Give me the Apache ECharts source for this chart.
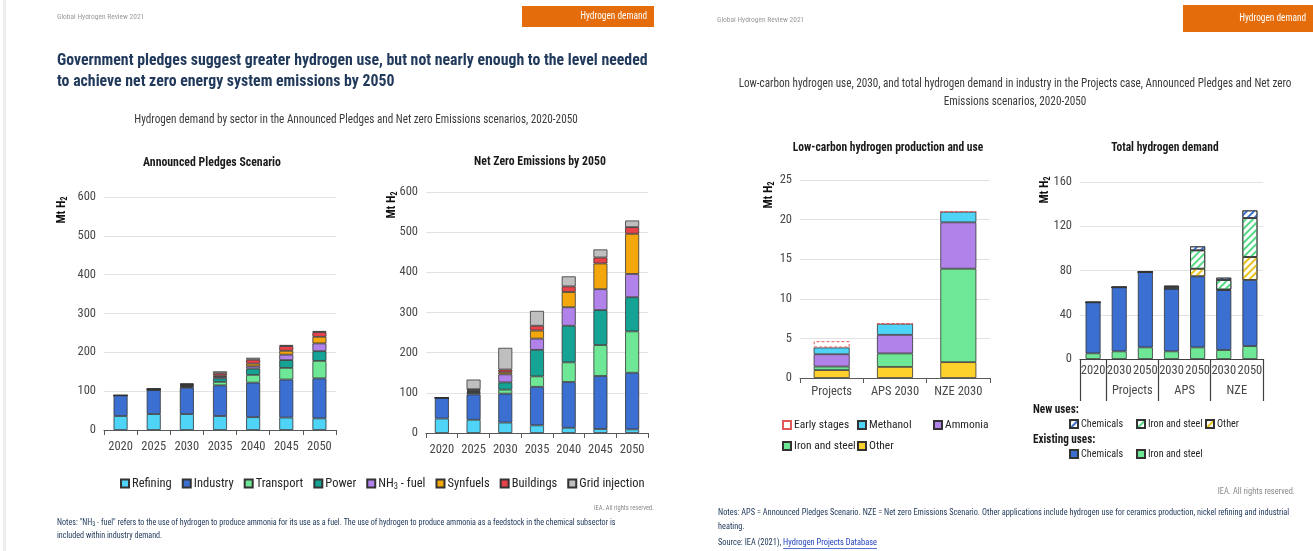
<!DOCTYPE html>
<html>
<head>
<meta charset="utf-8">
<script src="https://cdn.jsdelivr.net/npm/echarts@6/dist/echarts.min.js"></script>
<style>
  html, body { margin: 0; padding: 0; background: #ffffff; }
  #chart { width: 1313px; height: 551px; }
</style>
</head>
<body>
<div id="chart"></div>
<script>
// ---------- Hydrogen demand by sector, 2020-2050 (Mt H2) ----------
const years = ['2020', '2025', '2030', '2035', '2040', '2045', '2050'];
const sectorNames = ['Refining', 'Industry', 'Transport', 'Power', 'NH3 - fuel', 'Synfuels', 'Buildings', 'Grid injection'];

// Announced Pledges Scenario
const apsRefining  = [36, 41, 41, 36, 33, 32, 30];
const apsIndustry  = [53, 62, 68, 79, 89, 98, 103];
const apsTransport = [0, 0.6, 2, 9, 20, 30, 45];
const apsPower     = [0, 0.6, 2, 9, 16, 20, 25];
const apsNh3       = [0, 0.5, 2, 4, 6, 14, 20];
const apsSynfuels  = [0, 0.5, 1.5, 3, 7, 10, 17];
const apsBuildings = [0, 0.5, 1.5, 6, 10, 12, 12];
const apsGrid      = [0, 0.8, 2, 5, 5, 3, 3];

// Net Zero Emissions by 2050
const nzeRefining  = [36, 33, 26, 19, 13, 10, 9];
const nzeIndustry  = [52, 63, 72, 96, 114, 132, 141];
const nzeTransport = [0, 3, 10, 26, 49, 77, 103];
const nzePower     = [0, 3, 18, 66, 91, 87, 85];
const nzeNh3       = [0, 2, 20, 28, 46, 52, 58];
const nzeSynfuels  = [0, 2, 5, 20, 38, 64, 100];
const nzeBuildings = [0, 3, 7, 12, 14, 15, 16.5];
const nzeGrid      = [0, 24, 54, 37, 25, 20, 16.5];

const sectorTicks = [0, 100, 200, 300, 400, 500, 600];

// ---------- Low-carbon hydrogen production and use, 2030 (Mt H2) ----------
const lcCategories = ['Projects', 'APS 2030', 'NZE 2030'];
const lcOther    = [1.0, 1.4, 2.0];
const lcIron     = [0.45, 1.7, 11.8];
const lcAmmonia  = [1.55, 2.35, 5.85];
const lcMethanol = [0.85, 1.4, 1.35];
const lcEarly    = [0.8, 0, 0];
const lcTicks = [0, 5, 10, 15, 20, 25];

// ---------- Total hydrogen demand in industry (Mt H2) ----------
const totCategories = ['2020', '2030', '2050', '2030', '2050', '2030', '2050'];
const totGroups = ['Projects', 'APS', 'NZE'];
const exIron   = [5.1, 6.9, 10.5, 6.9, 10.5, 8.1, 11.7];
const exChem   = [46.1, 57.9, 68.1, 56.7, 64.2, 54.2, 59.7];
const newOther = [0, 0, 0, 0, 6.9, 0.5, 20.8];
const newIron  = [0, 0, 0, 1.5, 16.6, 8.6, 35.2];
const newChem  = [0, 0, 0, 1.2, 3.6, 2.1, 6.9];
const totTicks = [0, 40, 80, 120, 160];

// ---------- styling ----------
const FONT = "'Roboto Condensed', 'Liberation Sans', sans-serif";
const NARROW = 0.93;   // extra horizontal squeeze for free-standing text
const SECTOR_COLORS = ['#4fd3f6', '#3b6fd1', '#6ee896', '#15a396', '#b183ea', '#f3a70c', '#e8434b', '#bfbfbf'];
const C = { cyan: '#4fd3f6', blue: '#3b6fd1', green: '#6ee896', yellow: '#fdd12c', purple: '#b183ea', red: '#e05858' };
const EDGE = '#333333';
const AXIS_TEXT = { color: '#484848', fontSize: 12.5, fontFamily: FONT };

function valueAxis(gridIndex, ticks) {
  return {
    type: 'value', gridIndex: gridIndex,
    min: ticks[0], max: ticks[ticks.length - 1], interval: ticks[1] - ticks[0],
    axisLine: { show: false }, axisTick: { show: false },
    splitLine: { lineStyle: { color: '#e2e2e2', width: 1 } },
    axisLabel: Object.assign({ margin: 8 }, AXIS_TEXT)
  };
}
function catAxis(gridIndex, data, extra) {
  return Object.assign({
    type: 'category', gridIndex: gridIndex, data: data,
    axisLine: { lineStyle: { color: '#595959', width: 1 } },
    axisTick: { show: true, length: 5, lineStyle: { color: '#595959' } },
    axisLabel: Object.assign({ margin: 10, interval: 0 }, AXIS_TEXT)
  }, extra || {});
}
function bar(name, data, color, axisIndex, stack, width, extraStyle) {
  return {
    type: 'bar', name: name, data: data, stack: stack,
    xAxisIndex: axisIndex, yAxisIndex: axisIndex,
    barWidth: width,
    itemStyle: Object.assign({ color: color, borderColor: EDGE, borderWidth: 0.8 }, extraStyle || {}),
    emphasis: { disabled: true },
    animation: false
  };
}
function hatch(color) {
  return {
    color: '#ffffff',
    decal: { symbol: 'rect', symbolSize: 1, dashArrayX: [1, 0], dashArrayY: [2, 2.5], rotation: -Math.PI / 4, color: color }
  };
}

const apsData = [apsRefining, apsIndustry, apsTransport, apsPower, apsNh3, apsSynfuels, apsBuildings, apsGrid];
const nzeData = [nzeRefining, nzeIndustry, nzeTransport, nzePower, nzeNh3, nzeSynfuels, nzeBuildings, nzeGrid];

const series = [];
sectorNames.forEach((n, i) => series.push(bar(n, apsData[i], SECTOR_COLORS[i], 0, 'aps', 14)));
sectorNames.forEach((n, i) => series.push(bar(n, nzeData[i], SECTOR_COLORS[i], 1, 'nze', 14)));

series.push(bar('LC Other', lcOther, C.yellow, 2, 'lc', 36));
series.push(bar('LC Iron and steel', lcIron, C.green, 2, 'lc', 36));
series.push(bar('LC Ammonia', lcAmmonia, C.purple, 2, 'lc', 36));
series.push(bar('LC Methanol', lcMethanol, C.cyan, 2, 'lc', 36));
series.push(bar('LC Early stages', lcEarly, '#ffffff', 2, 'lc', 36, { borderColor: C.red, borderType: [3, 2], borderWidth: 1 }));

series.push(bar('Existing iron and steel', exIron, C.green, 3, 'tot', 15));
series.push(bar('Existing chemicals', exChem, C.blue, 3, 'tot', 15));
series.push(bar('New other', newOther, '#ffffff', 3, 'tot', 15, hatch('#e8c21e')));
series.push(bar('New iron and steel', newIron, '#ffffff', 3, 'tot', 15, hatch('#56d886')));
series.push(bar('New chemicals', newChem, '#ffffff', 3, 'tot', 15, hatch('#3b6fd1')));

const legendLabels = {
  'NH3 - fuel': 'NH{sub|3} - fuel',
  'LC Other': 'Other', 'LC Iron and steel': 'Iron and steel', 'LC Ammonia': 'Ammonia',
  'LC Methanol': 'Methanol', 'LC Early stages': 'Early stages',
  'Existing iron and steel': 'Iron and steel', 'Existing chemicals': 'Chemicals',
  'New other': 'Other', 'New iron and steel': 'Iron and steel', 'New chemicals': 'Chemicals'
};
function legend(data, left, top, size, gap) {
  return {
    data: data, left: left, top: top, orient: 'horizontal', padding: 0,
    itemWidth: 8, itemHeight: 8, itemGap: gap || 0, icon: 'rect', selectedMode: false,
    formatter: n => legendLabels[n] || n,
    textStyle: {
      color: '#262626', fontSize: size, fontFamily: FONT, padding: [0, 0, 0, -2],
      rich: { sub: { fontSize: 8.5, fontFamily: FONT, color: '#262626', padding: [6, 0, 0, 0] } }
    }
  };
}

// ---------- text & decoration ----------
function txt(x, y, text, size, color, opt) {
  opt = opt || {};
  return {
    type: 'text', x: x, y: y, rotation: opt.rotation || 0, scaleX: opt.scaleX || NARROW, silent: true,
    style: {
      text: text, fontSize: size, fontFamily: FONT, fill: color,
      fontWeight: opt.bold ? 'bold' : 'normal',
      align: opt.align || 'left', verticalAlign: 'middle',
      textAlign: opt.align || 'left', textVerticalAlign: 'middle',
      rich: opt.rich
    }
  };
}
function unitLabel(x, y) {
  return txt(x, y, 'Mt H{s|2}', 12, '#111', {
    bold: true, align: 'center', rotation: Math.PI / 2, scaleX: 1,
    rich: { s: { fontSize: 8.5, fontWeight: 'bold', fontFamily: FONT, fill: '#111', padding: [6, 0, 0, 0] } }
  });
}
function measure(text, font) {
  const ctx = document.createElement('canvas').getContext('2d');
  ctx.font = font;
  return ctx.measureText(text).width;
}
const srcPrefix = 'Source: IEA (2021), ';
const srcLink = 'Hydrogen Projects Database';
const noteSize = 9;
const srcX = 718 + measure(srcPrefix, noteSize + 'px ' + FONT) * NARROW;
const srcW = measure(srcLink, noteSize + 'px ' + FONT) * NARROW;
const NAVY = '#213a5c';

const graphics = [
  { type: 'rect', shape: { x: 3, y: 0, width: 3, height: 551 }, style: { fill: '#ededed' }, silent: true },
  // left slide
  txt(57, 17, 'Global Hydrogen Review 2021', 8, '#9a9a9a'),
  { type: 'rect', shape: { x: 522, y: 6, width: 132, height: 21 }, style: { fill: '#e46c0a' }, silent: true },
  txt(647, 16.5, 'Hydrogen demand', 10, '#ffffff', { align: 'right' }),
  txt(57, 61, 'Government pledges suggest greater hydrogen use, but not nearly enough to the level needed', 17, NAVY, { bold: true }),
  txt(57, 82, 'to achieve net zero energy system emissions by 2050', 17, NAVY, { bold: true }),
  txt(356, 120, 'Hydrogen demand by sector in the Announced Pledges and Net zero Emissions scenarios, 2020-2050', 12, '#3a3a3a', { align: 'center' }),
  txt(212, 163, 'Announced Pledges Scenario', 12.7, '#1a1a1a', { bold: true, align: 'center' }),
  txt(540, 162, 'Net Zero Emissions by 2050', 12.7, '#1a1a1a', { bold: true, align: 'center' }),
  unitLabel(62, 210),
  unitLabel(392, 205),
  txt(654, 508, 'IEA. All rights reserved.', 7, '#8a8a8a', { align: 'right' }),
  txt(57, 523, 'Notes: "NH{s|3} - fuel" refers to the use of hydrogen to produce ammonia for its use as a fuel. The use of hydrogen to produce ammonia as a feedstock in the chemical subsector is', 8.7, NAVY,
      { rich: { s: { fontSize: 6.5, fontFamily: FONT, fill: NAVY, padding: [3, 0, 0, 0] } } }),
  txt(57, 536, 'included within industry demand.', 8.7, NAVY),
  // right slide
  txt(717, 20, 'Global Hydrogen Review 2021', 8, '#9a9a9a'),
  { type: 'rect', shape: { x: 1183, y: 5, width: 130, height: 27 }, style: { fill: '#e46c0a' }, silent: true },
  txt(1306, 18.5, 'Hydrogen demand', 10, '#ffffff', { align: 'right' }),
  txt(1015, 84, 'Low-carbon hydrogen use, 2030, and total hydrogen demand in industry in the Projects case, Announced Pledges and Net zero', 12, '#3a3a3a', { align: 'center' }),
  txt(1015, 102, 'Emissions scenarios, 2020-2050', 12, '#3a3a3a', { align: 'center' }),
  txt(888, 148, 'Low-carbon hydrogen production and use', 12.4, '#1a1a1a', { bold: true, align: 'center' }),
  txt(1165, 148, 'Total hydrogen demand', 12.4, '#1a1a1a', { bold: true, align: 'center' }),
  unitLabel(769, 195),
  unitLabel(1045, 190),
  txt(1033, 410, 'New uses:', 12, '#1a1a1a', { bold: true }),
  txt(1033, 440, 'Existing uses:', 12, '#1a1a1a', { bold: true }),
  txt(1295, 492, 'IEA. All rights reserved.', 9, '#8a8a8a', { align: 'right' }),
  txt(718, 513, 'Notes: APS = Announced Pledges Scenario. NZE = Net zero Emissions Scenario. Other applications include hydrogen use for ceramics production, nickel refining and industrial', 8.95, NAVY),
  txt(718, 527, 'heating.', 8.95, NAVY),
  txt(718, 543, srcPrefix, noteSize, NAVY),
  txt(srcX, 543, srcLink, noteSize, '#1f3fbf'),
  { type: 'rect', shape: { x: srcX, y: 548, width: srcW, height: 0.8 }, style: { fill: '#1f3fbf' }, silent: true }
];

const option = {
  backgroundColor: '#ffffff',
  animation: false,
  textStyle: { fontFamily: FONT },
  grid: [
    { left: 104, top: 197, width: 232, height: 233 },
    { left: 426, top: 192, width: 222, height: 241 },
    { left: 800, top: 180, width: 190, height: 198 },
    { left: 1080, top: 182, width: 183, height: 177 }
  ],
  xAxis: [
    catAxis(0, years),
    catAxis(1, years),
    catAxis(2, lcCategories, { axisLabel: Object.assign({ margin: 7, interval: 0 }, AXIS_TEXT) }),
    catAxis(3, totCategories, {
      axisTick: { show: false },
      axisLine: { lineStyle: { color: '#404040', width: 1.2 } },
      axisLabel: Object.assign({ margin: 5, interval: 0 }, AXIS_TEXT)
    }),
    {
      type: 'value', gridIndex: 3, position: 'bottom', min: 0, max: totCategories.length,
      axisLine: { show: false }, splitLine: { show: false },
      axisTick: { show: true, inside: false, length: 42, customValues: [0, 1, 3, 5, 7], lineStyle: { color: '#404040', width: 1.2 } },
      axisLabel: Object.assign({
        show: true, margin: 25,
        customValues: [2, 4, 6], formatter: v => totGroups[(v - 2) / 2]
      }, AXIS_TEXT)
    }
  ],
  yAxis: [
    valueAxis(0, sectorTicks),
    valueAxis(1, sectorTicks),
    valueAxis(2, lcTicks),
    valueAxis(3, totTicks)
  ],
  legend: [
    legend(sectorNames, 120, 477, 12.5, 10),
    legend(['LC Early stages'], 782, 419, 11.5),
    legend(['LC Methanol'], 857, 419, 11.5),
    legend(['LC Ammonia'], 933, 419, 11.5),
    legend(['LC Iron and steel'], 782, 440, 11.5),
    legend(['LC Other'], 857, 440, 11.5),
    legend(['New chemicals'], 1069, 419, 10.2),
    legend(['New iron and steel'], 1136, 419, 10.2),
    legend(['New other'], 1205, 419, 10.2),
    legend(['Existing chemicals'], 1069, 449, 10.2),
    legend(['Existing iron and steel'], 1136, 449, 10.2)
  ],
  graphic: graphics,
  series: series
};

const chart = echarts.init(document.getElementById('chart'), null, { renderer: 'canvas' });
chart.setOption(option);
</script>
</body>
</html>
